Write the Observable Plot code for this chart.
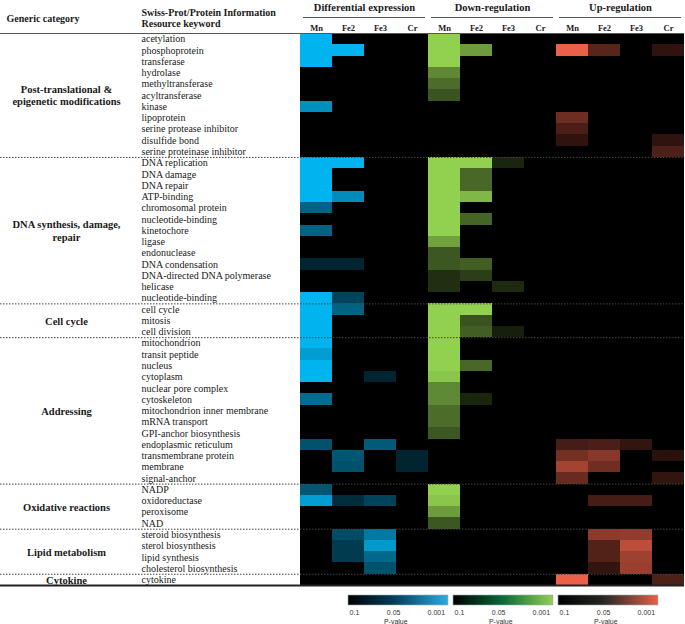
<!DOCTYPE html>
<html><head><meta charset="utf-8">
<script src="https://cdn.jsdelivr.net/npm/d3@7"></script>
<script src="https://cdn.jsdelivr.net/npm/@observablehq/plot@0.6"></script>
<style>body{margin:0;background:#fff} svg{display:block}</style>
</head><body><div id="chart"></div>
<script>
const metals = ["Mn", "Fe2", "Fe3", "Cr"];
const groupNames = ["Differential expression", "Down-regulation", "Up-regulation"];
const groupColors = ["#00b4f0", "#92d050", "#ea6048"];
const categoryNames = ["Post-translational &\nepigenetic modifications", "DNA synthesis, damage,\nrepair", "Cell cycle", "Addressing", "Oxidative reactions", "Lipid metabolism", "Cytokine"];
const categorySizes = [11, 13, 3, 13, 4, 4, 1];
const keywords = [
  "acetylation", "phosphoprotein", "transferase", "hydrolase", "methyltransferase", "acyltransferase", "kinase", "lipoprotein", "serine protease inhibitor", "disulfide bond", "serine proteinase inhibitor",
  "DNA replication", "DNA damage", "DNA repair", "ATP-binding", "chromosomal protein", "nucleotide-binding", "kinetochore", "ligase", "endonuclease", "DNA condensation", "DNA-directed DNA polymerase", "helicase", "nucleotide-binding",
  "cell cycle", "mitosis", "cell division",
  "mitochondrion", "transit peptide", "nucleus", "cytoplasm", "nuclear pore complex", "cytoskeleton", "mitochondrion inner membrane", "mRNA transport", "GPI-anchor biosynthesis", "endoplasmic reticulum", "transmembrane protein", "membrane", "signal-anchor",
  "NADP", "oxidoreductase", "peroxisome", "NAD",
  "steroid biosynthesis", "sterol biosynthesis", "lipid synthesis", "cholesterol biosynthesis",
  "cytokine"
];
// significance intensity (0 = p ≥ 0.1, 1 = p ≤ 0.001), columns Mn, Fe2, Fe3, Cr
const diffExpr = [
  [1,0,0,0],[1,1,0,0],[1,0,0,0],[0,0,0,0],[0,0,0,0],[0,0,0,0],[0.8,0,0,0],[0,0,0,0],[0,0,0,0],[0,0,0,0],[0,0,0,0],
  [1,1,0,0],[1,0,0,0],[1,0,0,0],[1,0.78,0,0],[0.55,0,0,0],[0,0,0,0],[0.55,0,0,0],[0,0,0,0],[0,0,0,0],[0.2,0.2,0,0],[0,0,0,0],[0,0,0,0],[1,0.38,0,0],
  [1,0.55,0,0],[1,0,0,0],[1,0,0,0],
  [1,0,0,0],[0.87,0,0,0],[1,0,0,0],[1,0,0.2,0],[0,0,0,0],[0.6,0,0,0],[0,0,0,0],[0,0,0,0],[0,0,0,0],[0.45,0,0.5,0],[0,0.48,0,0.2],[0,0.45,0,0.2],[0,0,0,0],
  [0.48,0,0,0],[0.88,0.25,0.38,0],[0,0,0,0],[0,0,0,0],
  [0,0.42,0.68,0],[0,0.33,0.85,0],[0,0.33,0.58,0],[0,0,0.45,0],
  [0,0,0,0]
];
const downReg = [
  [1,0,0,0],[1,0.75,0,0],[1,0,0,0],[0.65,0,0,0],[0.52,0,0,0],[0.4,0,0,0],[0,0,0,0],[0,0,0,0],[0,0,0,0],[0,0,0,0],[0,0,0,0],
  [1,1,0.18,0],[1,0.5,0,0],[1,0.5,0,0],[1,0.88,0,0],[1,0,0,0],[1,0.48,0,0],[1,0,0,0],[0.78,0,0,0],[0.42,0,0,0],[0.42,0.45,0,0],[0.22,0.3,0,0],[0.22,0,0.2,0],[0,0,0,0],
  [1,1,0,0],[1,0.4,0,0],[1,0.45,0.15,0],
  [1,0,0,0],[1,0,0,0],[1,0.5,0,0],[0.95,0,0,0],[0.66,0,0,0],[0.66,0.18,0,0],[0.52,0,0,0],[0.52,0,0,0],[0.42,0,0,0],[0,0,0,0],[0,0,0,0],[0,0,0,0],[0,0,0,0],
  [1,0,0,0],[0.95,0,0,0],[0.75,0,0,0],[0.42,0,0,0],
  [0,0,0,0],[0,0,0,0],[0,0,0,0],[0,0,0,0],
  [0,0,0,0]
];
const upReg = [
  [0,0,0,0],[1,0.38,0,0.2],[0,0,0,0],[0,0,0,0],[0,0,0,0],[0,0,0,0],[0,0,0,0],[0.47,0,0,0],[0.32,0,0,0],[0.2,0,0,0.2],[0,0,0,0.33],
  [0,0,0,0],[0,0,0,0],[0,0,0,0],[0,0,0,0],[0,0,0,0],[0,0,0,0],[0,0,0,0],[0,0,0,0],[0,0,0,0],[0,0,0,0],[0,0,0,0],[0,0,0,0],[0,0,0,0],
  [0,0,0,0],[0,0,0,0],[0,0,0,0],
  [0,0,0,0],[0,0,0,0],[0,0,0,0],[0,0,0,0],[0,0,0,0],[0,0,0,0],[0,0,0,0],[0,0,0,0],[0,0,0,0],[0.3,0.32,0.22,0],[0.5,0.58,0,0.18],[0.7,0.48,0,0],[0.45,0,0,0.22],
  [0,0,0,0],[0,0.3,0.3,0],[0,0,0,0],[0,0,0,0],
  [0,0.6,0.62,0],[0,0.35,0.8,0],[0,0.35,0.68,0],[0,0.22,0.66,0],
  [1,0,0,0.33]
];
const legendTickLabels = ["0.1", "0.05", "0.001"];
const legendTitle = "P-value";
const legendStops = [
  [[0, "#000000"], [0.5, "#074466"], [1, "#2aace4"]],
  [[0, "#000000"], [0.5, "#0a6a3a"], [1, "#92d050"]],
  [[0, "#000000"], [0.45, "#262622"], [0.75, "#8a4636"], [1, "#ea6048"]]
];

const series = [diffExpr, downReg, upReg];
const cells = [];
series.forEach((arr, g) => arr.forEach((vals, r) => vals.forEach((v, m) => cells.push({row: r, col: g * 4 + m, v, g}))));
const fillOf = d => d3.interpolateRgb("#000000", groupColors[d.g])(d.v);

let start = 0;
const cats = categoryNames.map((name, i) => { const c = {name, start, end: start + categorySizes[i]}; start += categorySizes[i]; return c; });
const boundaries = cats.slice(0, -1).map(c => c.end);
const columns = d3.range(12).map(i => ({col: i, label: metals[i % 4]}));
const groups = groupNames.map((name, g) => ({name, g}));

const W = 685, H = 590, ML = 300, MT = 33;
const serif = "'Liberation Serif', 'Times New Roman', serif";

const chart = Plot.plot({
  width: W, height: H, marginLeft: ML, marginRight: 1, marginTop: MT, marginBottom: 5,
  x: {domain: [0, 12], axis: null},
  y: {domain: [0, keywords.length], reverse: true, axis: null},
  color: {type: "identity"},
  style: {fontFamily: serif, fontSize: "10px", color: "#1a1a1a", background: "white"},
  marks: [
    Plot.rect(cells, {x1: "col", x2: d => d.col + 1, y1: "row", y2: d => d.row + 1, fill: fillOf, shapeRendering: "crispEdges"}),
    Plot.ruleY(boundaries, {insetLeft: -ML, stroke: "#444", strokeDasharray: "1.5,1.5", strokeWidth: 1}),
    Plot.ruleY([0], {insetLeft: -ML, stroke: "#555", strokeWidth: 1}),
    Plot.ruleY([keywords.length], {insetLeft: -ML, stroke: "#222", strokeWidth: 2}),
    Plot.ruleY(groups, {y: () => 0, x1: d => d.g * 4, x2: d => d.g * 4 + 4, dy: -16, insetLeft: 3, insetRight: 3, stroke: "#555", strokeWidth: 1}),
    Plot.text(keywords, {y: (d, i) => i + 0.5, text: d => d, frameAnchor: "left", dx: -159, textAnchor: "start", fill: "#1a1a1a"}),
    Plot.text(cats, {y: d => (d.start + d.end) / 2, text: "name", frameAnchor: "left", dx: -234, textAnchor: "middle", fontWeight: "bold", fontSize: 10.5, lineHeight: 1.15}),
    Plot.text(columns, {x: d => d.col + 0.5, text: "label", frameAnchor: "top", lineAnchor: "middle", dy: -5, fontWeight: "bold", fontSize: 8.5}),
    Plot.text(groups, {x: d => d.g * 4 + 2, text: "name", frameAnchor: "top", lineAnchor: "middle", dy: -26, fontWeight: "bold", fontSize: 10.5}),
    Plot.text(["Generic category"], {frameAnchor: "top-left", lineAnchor: "middle", dx: -294, dy: -15, textAnchor: "start", fontWeight: "bold"}),
    Plot.text(["Swiss-Prot/Protein Information\nResource keyword"], {frameAnchor: "top-left", lineAnchor: "middle", dx: -159, dy: -15.5, textAnchor: "start", fontWeight: "bold", lineHeight: 1.1})
  ]
});

const legendBars = d3.range(3).map(i => ({i}));
const legend = Plot.plot({
  width: W, height: 34, marginLeft: 348, marginRight: 22, marginTop: 5, marginBottom: 19,
  x: {domain: [0, 3], axis: null},
  y: {domain: [0, 1], axis: null},
  color: {type: "identity"},
  style: {fontFamily: "'Liberation Sans', Arial, sans-serif", fontSize: "7px", background: "white"},
  marks: [
    Plot.rect(legendBars, {x1: "i", x2: d => d.i + 0.952, y1: 0, y2: 1, fill: d => `url(#lg${d.i})`, stroke: "#9aa", strokeWidth: 0.6}),
    Plot.text(legendBars, {x: d => d.i + 0.01, text: () => legendTickLabels[0], textAnchor: "start", frameAnchor: "bottom", lineAnchor: "middle", dy: 7, fill: "#333"}),
    Plot.text(legendBars, {x: d => d.i + 0.43, text: () => legendTickLabels[1], textAnchor: "middle", frameAnchor: "bottom", lineAnchor: "middle", dy: 7, fill: "#333"}),
    Plot.text(legendBars, {x: d => d.i + 0.92, text: () => legendTickLabels[2], textAnchor: "end", frameAnchor: "bottom", lineAnchor: "middle", dy: 7, fill: "#333"}),
    Plot.text(legendBars, {x: d => d.i + 0.45, text: () => legendTitle, frameAnchor: "bottom", lineAnchor: "middle", dy: 16, fill: "#333"})
  ]
});
const defs = d3.select(legend).insert("defs", ":first-child");
legendStops.forEach((stops, i) => {
  const g = defs.append("linearGradient").attr("id", `lg${i}`).attr("x1", "0%").attr("x2", "100%").attr("y1", "0%").attr("y2", "0%");
  stops.forEach(([o, c]) => g.append("stop").attr("offset", o).attr("stop-color", c));
});

const root = document.getElementById("chart");
root.appendChild(chart);
root.appendChild(legend);
</script></body></html>
